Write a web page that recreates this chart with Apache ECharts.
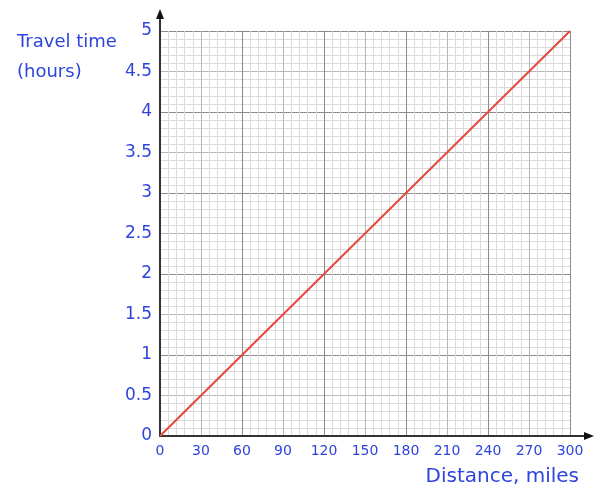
<!DOCTYPE html>
<html>
<head>
<meta charset="utf-8">
<script src="https://cdn.jsdelivr.net/npm/echarts@6/dist/echarts.min.js"></script>
<style>
  html, body { margin: 0; padding: 0; background: #fff; }
  #chart { width: 600px; height: 491px; }
</style>
</head>
<body>
<div id="chart"></div>
<script>
// distance (miles) vs travel time (hours)
const distance = [0, 60, 120, 180, 240, 300];
const hours = [0, 1, 2, 3, 4, 5];

const blue = '#2f44dc';
const font = '"DejaVu Sans", sans-serif';

// every 10th grid line dark, every 5th medium, rest light
const gridColors = ['#8a8a8a', '#dadada', '#dadada', '#dadada', '#dadada',
                    '#b8b8b8', '#dadada', '#dadada', '#dadada', '#dadada'];

const chart = echarts.init(document.getElementById('chart'));

chart.setOption({
  animation: false,
  grid: { left: 160, right: 30, top: 31, bottom: 55 },
  title: [
    {
      text: 'Travel time\n(hours)',
      left: 12, top: 22,
      textStyle: { color: blue, fontFamily: font, fontSize: 18, fontWeight: 'normal', lineHeight: 30 }
    },
    {
      text: 'Distance, miles',
      right: 16, top: 462,
      textStyle: { color: blue, fontFamily: font, fontSize: 20, fontWeight: 'normal' }
    }
  ],
  xAxis: {
    type: 'value',
    min: 0, max: 300, interval: 6,
    axisLine: { show: true, lineStyle: { color: '#333', width: 2 } },
    axisTick: { show: false },
    axisLabel: {
      color: blue, fontFamily: font, fontSize: 14, margin: 8,
      formatter: v => (Math.round(v) % 30 === 0 ? String(Math.round(v)) : '')
    },
    splitLine: { show: true, lineStyle: { color: gridColors, width: 1 } }
  },
  yAxis: {
    type: 'value',
    min: 0, max: 5, interval: 0.1,
    axisLine: { show: true, lineStyle: { color: '#333', width: 2 } },
    axisTick: { show: false },
    axisLabel: {
      color: blue, fontFamily: font, fontSize: 17, margin: 8,
      formatter: v => {
        const h = Math.round(v * 2);
        return Math.abs(v * 2 - h) < 1e-6 ? String(h / 2) : '';
      }
    },
    splitLine: { show: true, lineStyle: { color: gridColors, width: 1 } }
  },
  series: [{
    type: 'line',
    data: distance.map((d, i) => [d, hours[i]]),
    symbol: 'none',
    lineStyle: { color: '#e8473c', width: 2 }
  }]
});

// axis arrows past the end of each axis
const o = chart.convertToPixel({ gridIndex: 0 }, [0, 0]);
const xe = chart.convertToPixel({ gridIndex: 0 }, [300, 0]);
const ye = chart.convertToPixel({ gridIndex: 0 }, [0, 5]);
chart.setOption({
  graphic: [
    { type: 'line', shape: { x1: xe[0], y1: o[1], x2: xe[0] + 18, y2: o[1] }, style: { stroke: '#333', lineWidth: 2 } },
    { type: 'polygon', shape: { points: [[xe[0] + 24, o[1]], [xe[0] + 14, o[1] - 4], [xe[0] + 14, o[1] + 4]] }, style: { fill: '#111' } },
    { type: 'line', shape: { x1: o[0], y1: ye[1], x2: o[0], y2: ye[1] - 16 }, style: { stroke: '#333', lineWidth: 2 } },
    { type: 'polygon', shape: { points: [[o[0], ye[1] - 22], [o[0] - 4, ye[1] - 12], [o[0] + 4, ye[1] - 12]] }, style: { fill: '#111' } }
  ]
});
</script>
</body>
</html>
